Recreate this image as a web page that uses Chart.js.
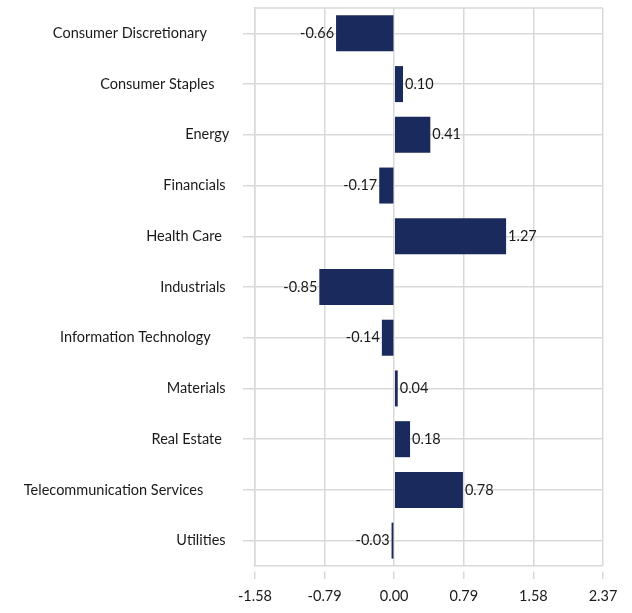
<!DOCTYPE html>
<html>
<head>
<meta charset="utf-8">
<script src="https://cdn.jsdelivr.net/npm/chart.js@4.4.0/dist/chart.umd.min.js"></script>
<style>
  body { margin: 0; background: #fff; }
  #wrap { width: 632px; height: 613px; position: relative; }
</style>
</head>
<body>
<div id="wrap"><canvas id="myChart"></canvas></div>
<script>
// sectors (trailing spaces kept as in the original sheet labels)
var sectors = [
  'Consumer Discretionary       ',
  'Consumer Staples     ',
  'Energy ',
  'Financials  ',
  'Health Care   ',
  'Industrials  ',
  'Information Technology      ',
  'Materials  ',
  'Real Estate   ',
  'Telecommunication Services        ',
  'Utilities  '
];
var values = [-0.66, 0.10, 0.41, -0.17, 1.27, -0.85, -0.14, 0.04, 0.18, 0.78, -0.03];
var xTicks = [-1.58, -0.79, 0.00, 0.79, 1.58, 2.37];

var gridColor = '#d9d9d9';
var textColor = '#1a1a1a';
var fontFamily = 'Lato, "Open Sans", sans-serif';
var fontSize = 14.5;

// value labels at the end of each bar
var barLabels = {
  id: 'barLabels',
  afterDatasetsDraw: function(chart){
    var ctx = chart.ctx;
    var meta = chart.getDatasetMeta(0);
    ctx.save();
    ctx.font = fontSize + 'px ' + fontFamily;
    ctx.fillStyle = textColor;
    ctx.textBaseline = 'middle';
    meta.data.forEach(function(bar, i){
      var v = values[i];
      if (v >= 0) {
        ctx.textAlign = 'left';
        ctx.fillText(v.toFixed(2), bar.x + 2, bar.y);
      } else {
        ctx.textAlign = 'right';
        ctx.fillText(v.toFixed(2), bar.x - 2, bar.y);
      }
    });
    ctx.restore();
  }
};

// top edge of the plot area
var plotBorder = {
  id: 'plotBorder',
  beforeDatasetsDraw: function(chart){
    var a = chart.chartArea;
    var ctx = chart.ctx;
    ctx.save();
    ctx.strokeStyle = gridColor;
    ctx.lineWidth = 1.5;
    ctx.beginPath();
    ctx.moveTo(a.left, a.top);
    ctx.lineTo(a.right, a.top);
    ctx.stroke();
    ctx.restore();
  }
};

function init(){
  var ctx = document.getElementById('myChart').getContext('2d');
  var myChart = new Chart(ctx, {
    type: 'bar',
    data: {
      labels: sectors,
      datasets: [{
        data: values,
        backgroundColor: '#1b2a5c',
        categoryPercentage: 1,
        barPercentage: 0.71
      }]
    },
    options: {
      indexAxis: 'y',
      responsive: true,
      maintainAspectRatio: false,
      animation: false,
      layout: { padding: { left: 0, top: 8, right: 29, bottom: 0 } },
      plugins: {
        legend: { display: false },
        tooltip: { enabled: false }
      },
      scales: {
        x: {
          min: -1.58,
          max: 2.37,
          afterBuildTicks: function(scale){
            scale.ticks = xTicks.map(function(v){ return { value: v }; });
          },
          afterFit: function(scale){ scale.height = 47; },
          ticks: {
            color: textColor,
            font: { family: fontFamily, size: fontSize },
            padding: 9,
            maxRotation: 0,
            callback: function(v){ return Number(v).toFixed(2); }
          },
          grid: {
            color: gridColor,
            lineWidth: 1.5,
            tickLength: 13,
            tickBorderDash: [0, 5, 8, 30]
          },
          border: { display: true, color: gridColor, width: 1.5 }
        },
        y: {
          afterFit: function(scale){
            scale.width = 255;
            scale.paddingTop = 0;
            scale.paddingBottom = 0;
          },
          ticks: {
            color: textColor,
            font: { family: fontFamily, size: fontSize },
            padding: 10,
            autoSkip: false
          },
          grid: {
            offset: false,
            color: gridColor,
            lineWidth: 1.5,
            tickLength: 12
          },
          border: { display: true, color: gridColor, width: 1.5 }
        }
      }
    },
    plugins: [barLabels, plotBorder]
  });
}

init();
</script>
</body>
</html>
